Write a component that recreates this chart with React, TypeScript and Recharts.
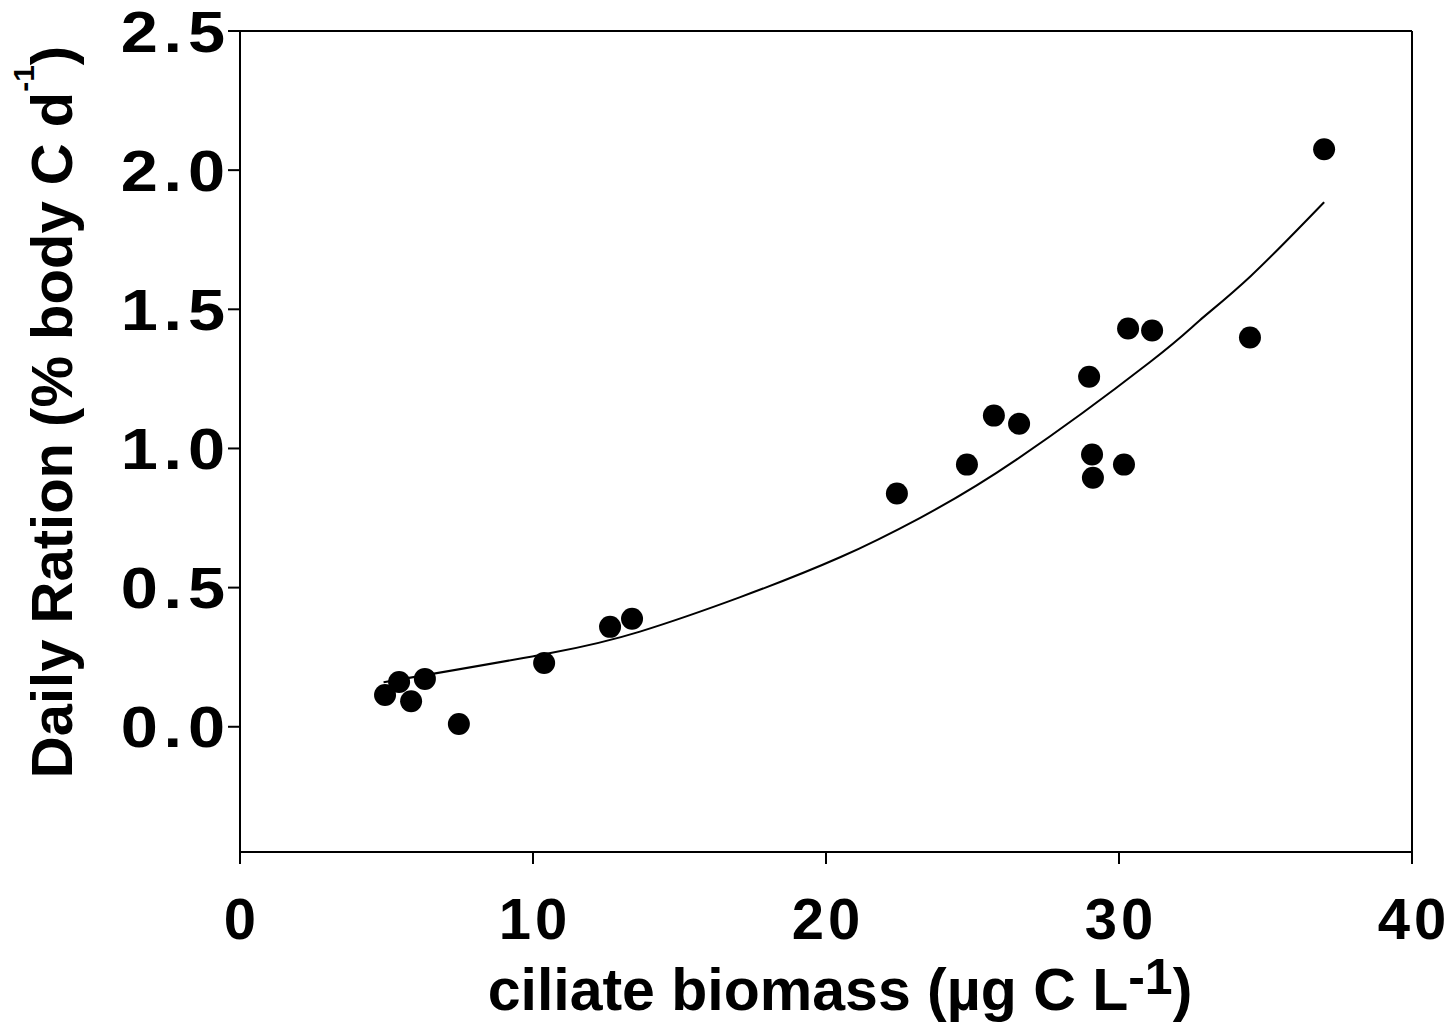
import React from 'react';
import { ComposedChart, Scatter, Line, XAxis, YAxis, ReferenceLine } from 'recharts';

// observed points
const biomass = [4.95, 5.43, 5.84, 6.31, 7.47, 10.38, 12.63, 13.38, 22.42, 24.81, 25.73, 26.59, 28.98, 29.08, 29.11, 30.17, 30.31, 31.13, 34.47, 37.0];
const ration = [0.114, 0.161, 0.092, 0.172, 0.01, 0.229, 0.359, 0.388, 0.838, 0.942, 1.118, 1.089, 1.258, 0.978, 0.895, 0.942, 1.431, 1.424, 1.399, 2.075];

// fitted curve
const fitBiomass = [4.9, 10.6, 13.65, 17.05, 20.5, 23.2, 26.5, 31.05, 32.75, 34.5, 37.0];
const fitRation = [0.16, 0.265, 0.342, 0.465, 0.61, 0.75, 0.96, 1.31, 1.46, 1.62, 1.885];

const xTicks = [0, 10, 20, 30, 40];
const yTicks = [0, 0.5, 1.0, 1.5, 2.0, 2.5];

const FONT = '"Liberation Sans", Arial, Helvetica, sans-serif';

const points = biomass.map((x, i) => ({ x, y: ration[i] }));
const fit = fitBiomass.map((x, i) => ({ x, y: fitRation[i] }));

// tick text in the figure is a bit wider than plain Arial bold
const YTick = ({ x, y, payload }: any) => (
  <g transform={`translate(${x}, ${y}) scale(1.15, 1)`}>
    <text x={0} y={0} dx={5} dy="0.355em" textAnchor="end" fontSize={58} fontWeight="bold"
      fontFamily={FONT} fill="#000" letterSpacing={5}>
      {Number(payload.value).toFixed(1)}
    </text>
  </g>
);

const XTick = ({ x, y, payload }: any) => (
  <text x={x} y={y} dx={2} dy="0.71em" textAnchor="middle" fontSize={58} fontWeight="bold"
    fontFamily={FONT} fill="#000" letterSpacing={4}>
    {payload.value}
  </text>
);

const XLabel = ({ viewBox }: any) => (
  <text x={viewBox.x + viewBox.width / 2 + 14} y={viewBox.y + 158} textAnchor="middle"
    fontSize={59} fontWeight="bold" fontFamily={FONT} fill="#000">
    ciliate biomass (µg C L
    <tspan fontSize={50} dy={-16}>-1</tspan>
    <tspan dy={16}>)</tspan>
  </text>
);

const YLabel = ({ viewBox }: any) => {
  const cx = viewBox.x + 72;
  const cy = 412;
  return (
    <text x={cx} y={cy} transform={`rotate(-90, ${cx}, ${cy})`} textAnchor="middle"
      fontSize={58} fontWeight="bold" fontFamily={FONT} fill="#000">
      Daily Ration (% body C d
      <tspan fontSize={30} dy={-38}>-1</tspan>
      <tspan dy={38}>)</tspan>
    </text>
  );
};

const Dot = (props: any) => <circle cx={props.cx} cy={props.cy} r={11} fill="#000" />;

export default function App() {
  return (
    <div style={{ position: 'absolute', left: 0, top: 0, background: '#fff' }}>
      <ComposedChart width={1450} height={1025} margin={{ top: 31, right: 38, left: 0, bottom: 0 }}>
        <XAxis
          dataKey="x"
          type="number"
          domain={[0, 40]}
          ticks={xTicks}
          height={173}
          tickSize={12}
          tickMargin={34}
          axisLine={{ stroke: '#000', strokeWidth: 2 }}
          tickLine={{ stroke: '#000', strokeWidth: 2 }}
          tick={<XTick />}
          label={{ content: <XLabel /> }}
          allowDataOverflow
        />
        <YAxis
          dataKey="y"
          type="number"
          domain={[-0.45, 2.5]}
          ticks={yTicks}
          width={240}
          tickSize={12}
          tickMargin={3}
          axisLine={{ stroke: '#000', strokeWidth: 2 }}
          tickLine={{ stroke: '#000', strokeWidth: 2 }}
          tick={<YTick />}
          label={{ content: <YLabel /> }}
          allowDataOverflow
        />
        <ReferenceLine y={2.5} stroke="#000" strokeWidth={2} />
        <ReferenceLine x={40} stroke="#000" strokeWidth={2} />
        <Line data={fit} dataKey="y" type="natural" stroke="#000" strokeWidth={2}
          dot={false} activeDot={false} isAnimationActive={false} />
        <Scatter data={points} dataKey="y" shape={<Dot />} isAnimationActive={false} />
      </ComposedChart>
    </div>
  );
}
